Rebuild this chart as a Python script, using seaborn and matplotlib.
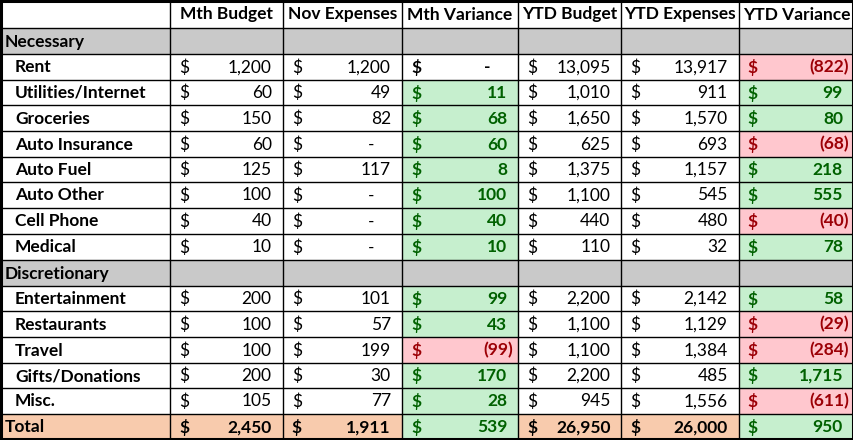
import numpy as np
import pandas as pd
import matplotlib
matplotlib.use('Agg')
import matplotlib.pyplot as plt
from matplotlib.colors import ListedColormap
import seaborn as sns

# table content
columns = ['Mth Budget', 'Nov Expenses', 'Mth Variance', 'YTD Budget', 'YTD Expenses', 'YTD Variance']
necessary = ['Rent', 'Utilities/Internet', 'Groceries', 'Auto Insurance', 'Auto Fuel',
             'Auto Other', 'Cell Phone', 'Medical']
discretionary = ['Entertainment', 'Restaurants', 'Travel', 'Gifts/Donations', 'Misc.']

mth_budget = [1200, 60, 150, 60, 125, 100, 40, 10, 200, 100, 100, 200, 105]
nov_expenses = [1200, 49, 82, 0, 117, 0, 0, 0, 101, 57, 199, 30, 77]
mth_variance = [0, 11, 68, 60, 8, 100, 40, 10, 99, 43, -99, 170, 28]
ytd_budget = [13095, 1010, 1650, 625, 1375, 1100, 440, 110, 2200, 1100, 1100, 2200, 945]
ytd_expenses = [13917, 911, 1570, 693, 1157, 545, 480, 32, 2142, 1129, 1384, 485, 1556]
ytd_variance = [-822, 99, 80, -68, 218, 555, -40, 78, 58, -29, -284, 1715, -611]
totals = [2450, 1911, 539, 26950, 26000, 950]

df = pd.DataFrame({'Mth Budget': mth_budget, 'Nov Expenses': nov_expenses,
                   'Mth Variance': mth_variance, 'YTD Budget': ytd_budget,
                   'YTD Expenses': ytd_expenses, 'YTD Variance': ytd_variance},
                  index=necessary + discretionary)

# layout
col_w = [170, 112, 119, 116, 103, 117, 115]
row_h = [28] + [26, 26, 25, 26, 26, 25, 26, 26] * 2

WHITE, GRAY, GREEN, RED, PEACH = 0, 1, 2, 3, 4
cmap = ListedColormap(['#ffffff', '#c9c9c9', '#c6efce', '#ffc7ce', '#f8cbad'])
GREEN_TXT, RED_TXT = '#006100', '#9c0006'

# build rows: (kind, label, values)
rows = [('header', '', None), ('group', 'Necessary', None)]
for name in necessary:
    rows.append(('item', name, df.loc[name].tolist()))
rows.append(('group', 'Discretionary', None))
for name in discretionary:
    rows.append(('item', name, df.loc[name].tolist()))
rows.append(('total', 'Total', totals))


def var_code(v):
    if v > 0:
        return GREEN
    if v < 0:
        return RED
    return WHITE


codes = np.zeros((len(rows), len(col_w)), dtype=int)
for i, (kind, label, vals) in enumerate(rows):
    if kind == 'group':
        codes[i, :] = GRAY
    elif kind == 'item':
        codes[i, 3] = var_code(vals[2])
        codes[i, 6] = var_code(vals[5])
    elif kind == 'total':
        codes[i, :] = PEACH
        codes[i, 3] = var_code(vals[2])
        codes[i, 6] = var_code(vals[5])

grid = np.repeat(np.repeat(codes, row_h, axis=0), col_w, axis=1)

fig = plt.figure(figsize=(8.54, 4.40), dpi=100)
ax = fig.add_axes([0, 0, 1, 1])
sns.heatmap(grid, cmap=cmap, vmin=-0.5, vmax=4.5, cbar=False,
            xticklabels=False, yticklabels=False, ax=ax, rasterized=True)

x_edges = np.concatenate([[0], np.cumsum(col_w)])
y_edges = np.concatenate([[0], np.cumsum(row_h)])
W, H = x_edges[-1], y_edges[-1]

ax.hlines(y_edges[1:-1], 0, W, color='black', lw=1)
ax.vlines(x_edges[1:-1], 0, H, color='black', lw=1)
ax.add_patch(plt.Rectangle((1, 1), W - 2, H - 2, fill=False, ec='black', lw=2.2, clip_on=False))

font = 'Lato'
fs = 12.5


def fmt(v):
    if v == 0:
        return '-'
    if v < 0:
        return '({:,})'.format(-v)
    return '{:,}'.format(v)


for i, (kind, label, vals) in enumerate(rows):
    yc = (y_edges[i] + y_edges[i + 1]) / 2 + 0.5
    if kind == 'header':
        for j, c in enumerate(columns):
            xc = (x_edges[j + 1] + x_edges[j + 2]) / 2
            ax.text(xc, yc, c, ha='center', va='center', fontsize=fs,
                    fontweight='bold', family=font)
        continue
    indent = 15 if kind == 'item' else 5
    ax.text(indent, yc, label, ha='left', va='center', fontsize=fs,
            fontweight='bold', family=font)
    if vals is None:
        continue
    for j, v in enumerate(vals):
        left, right = x_edges[j + 1], x_edges[j + 2]
        is_var = j in (2, 5)
        bold = is_var or kind == 'total'
        color = 'black'
        if is_var and v > 0:
            color = GREEN_TXT
        elif is_var and v < 0:
            color = RED_TXT
        weight = 'bold' if bold else 'normal'
        ax.text(left + 9, yc, '$', ha='left', va='center', fontsize=fs,
                fontweight=weight, family=font, color=color)
        if v == 0:
            xr = right - 28
        elif v < 0:
            xr = right - 5
        else:
            xr = right - 11
        ax.text(xr, yc, fmt(v), ha='right', va='center', fontsize=fs,
                fontweight=weight, family=font, color=color)

ax.set_xlim(0, W)
ax.set_ylim(H, 0)
ax.axis('off')
fig.savefig('out.png', dpi=100)
